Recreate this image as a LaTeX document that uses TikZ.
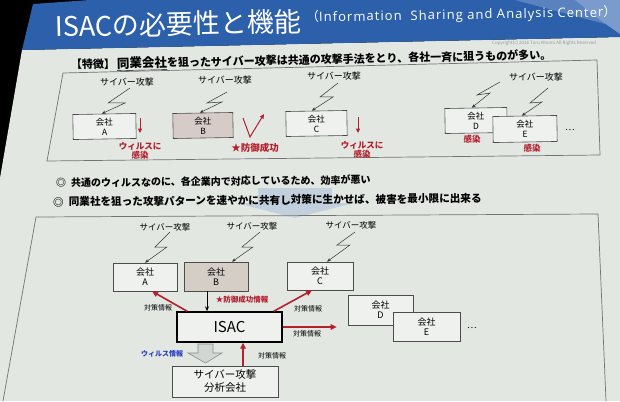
\documentclass[tikz,border=0pt]{standalone}
\usepackage{fontspec}
\setmainfont{Noto Sans CJK JP}
\newfontfamily\latfont[LetterSpace=8]{Open Sans}
\usetikzlibrary{arrows.meta}
\definecolor{slidebg}{HTML}{E2E7E2}
\definecolor{band}{HTML}{2C60AA}
\definecolor{facetA}{HTML}{5A82BE}
\definecolor{facetB}{HTML}{7A9BCB}
\definecolor{boxw}{HTML}{EEF1EE}
\definecolor{boxpink}{HTML}{D6CBC7}
\definecolor{boxbeige}{HTML}{D4CEC6}
\definecolor{myred}{HTML}{B3202E}
\definecolor{myblue}{HTML}{2F3FC0}
\definecolor{lightarrow}{HTML}{C2D0DE}
\definecolor{grayarrow}{HTML}{D2D6D2}
\tikzset{
  cbox/.style={draw=black!70, line width=0.6pt, fill=boxw, align=center, inner sep=0pt, font=\fontsize{8.5}{10}\selectfont},
  lbl/.style={font=\fontsize{9}{10}\selectfont},
  slbl/.style={font=\fontsize{7}{8}\selectfont},
  bolt/.style={draw=black!80, line width=0.5pt, -{Stealth[length=4pt,width=3pt]}},
  redv/.style={draw=myred, line width=1pt, -{Triangle[length=4.5pt,width=4pt]}},
  redthick/.style={draw=myred, line width=1.6pt, -{Triangle[length=6pt,width=5.5pt]}},
  redtxt/.style={text=myred, font=\bfseries\fontsize{8.5}{9}\selectfont, align=center},
  frameline/.style={draw=black!55, line width=0.7pt}
}
\begin{document}
\begin{tikzpicture}[x=1pt,y=-1pt]
\useasboundingbox (0,0) rectangle (620,401);
\fill[black] (0,0) rectangle (620,401);
% slide body and title band
\fill[slidebg] (22,50) -- (620,37) -- (620,401) -- (0,401) -- (0,178) -- cycle;
\fill[band] (33,4) -- (90,0) -- (620,0) -- (620,37) -- (22,50) -- cycle;
\fill[facetA] (515,0) -- (585,0) -- (605,24) -- cycle;
\fill[facetB] (575,0) -- (620,0) -- (620,34) -- (600,20) -- cycle;
\node[anchor=base west, text=white, rotate=1.3, font=\fontsize{27}{30}\selectfont, inner sep=0pt] (title) at (55,37) {ISACの必要性と機能};
\node[anchor=base west, text=white, rotate=1, font=\fontsize{13}{14}\selectfont, inner sep=0pt] (subtitle) at (306,22) {（{\latfont Information\ \ Sharing and Analysis Center}）};
\node[anchor=base west, text=black!40, font=\fontsize{4.5}{5}\selectfont, inner sep=0pt] (copy) at (492,45) {Copyright(c) 2016 Toru Atsumi All Rights Reserved};

% heading
\node[anchor=base west, rotate=1.2, inner sep=0pt, font=\bfseries\fontsize{11}{12}\selectfont] (head) at (71,69) {【特徴】\,\underline{\fontsize{12.5}{13}\selectfont 同業会社}を狙ったサイバー攻撃は共通の攻撃手法をとり、各社一斉に狙うものが多い。};

% upper frame
\draw[frameline] (63,73) -- (597,60) -- (600,155) -- (47,161) -- cycle;

% upper boxes
\node[cbox, rotate=1, minimum width=63pt, minimum height=25pt] (uA) at (104.5,126.5) {会社\\A};
\node[cbox, rotate=1, fill=boxpink, minimum width=60pt, minimum height=25pt] (uB) at (203,125.5) {会社\\B};
\node[cbox, rotate=1, minimum width=61pt, minimum height=25pt] (uC) at (316.5,123.5) {会社\\C};
\node[cbox, rotate=1, minimum width=62pt, minimum height=25pt] (uD) at (476,120.5) {会社\\D};
\node[cbox, rotate=1, minimum width=64pt, minimum height=26pt] (uE) at (525,129) {会社\\E};
\node[lbl] (udots) at (570,130) {…};

% upper attack labels
\node[lbl] (uatkA) at (127,82) {サイバー攻撃};
\node[lbl] (uatkB) at (225,80) {サイバー攻撃};
\node[lbl] (uatkC) at (334,76) {サイバー攻撃};
\node[lbl] (uatkDE) at (536,77) {サイバー攻撃};

% upper bolts
\coordinate (ubA) at (130,88);
\coordinate (ubB) at (227,92);
\coordinate (ubC) at (338,83);
\coordinate (ubD) at (500,82);
\coordinate (ubE) at (548,88);
\draw[bolt] (ubA) -- (108,103) -- (125,103) -- ([xshift=-2.5pt]uA.north);
\draw[bolt] (ubB) -- (207,103) -- (222,102) -- ([xshift=-3pt]uB.north);
\draw[bolt] (ubC) -- (320,97) -- (333,97) -- ([xshift=-4.5pt]uC.north);
\draw[bolt] (ubD) -- (477,95) -- (490,93) -- ([xshift=-4pt]uD.north);
\draw[bolt] (ubE) -- (530,103) -- (542,102) -- ([xshift=-3pt]uE.north);

% upper red marks
\coordinate (raS) at (140,118);
\coordinate (raE) at (140,133);
\draw[redv] (raS) -- (raE);
\coordinate (rcS) at (358,117);
\coordinate (rcE) at (358,133);
\draw[redv] (rcS) -- (rcE);
\coordinate (rbS) at (243,118);
\coordinate (rbM) at (250,137);
\coordinate (rbE) at (264,114);
\draw[redv] (rbS) -- (rbM) -- (rbE);
\node[redtxt] (infA) at (140,151) {ウィルスに\\感染};
\node[redtxt] (infC) at (362,150) {ウィルスに\\感染};
\node[redtxt, font=\bfseries\fontsize{9.5}{10}\selectfont] (defB) at (255,148) {★防御成功};
\node[redtxt] (infD) at (472,139) {感染};
\node[redtxt] (infE) at (532,148) {感染};

% middle arrow and bullets
\fill[lightarrow] (258,188) -- (332,188) -- (332,203) -- (354,203) -- (295,218) -- (236,203) -- (258,203) -- cycle;
\node[anchor=west, inner sep=0pt, rotate=0.6, font=\bfseries\fontsize{10}{11}\selectfont] (bul1) at (56,183) {◎\hspace{5pt}共通のウィルスなのに、各企業内で対応しているため、効率が悪い};
\node[anchor=west, inner sep=0pt, rotate=0.5, font=\bfseries\fontsize{10.6}{11}\selectfont] (bul2) at (53,202) {◎\hspace{5pt}同業社を狙った攻撃パターンを速やかに共有し対策に生かせば、被害を最小限に出来る};

% lower frame
\draw[frameline] (3,401) -- (36,217) -- (598,214) -- (606,401);

% lower boxes
\node[cbox, font=\fontsize{9}{10}\selectfont, minimum width=64pt, minimum height=28pt] (lA) at (145,277) {会社\\A};
\node[cbox, font=\fontsize{9}{10}\selectfont, fill=boxbeige, minimum width=64pt, minimum height=29pt] (lB) at (216,276.5) {会社\\B};
\node[cbox, font=\fontsize{9}{10}\selectfont, minimum width=66pt, minimum height=28pt] (lC) at (320,276) {会社\\C};
\node[cbox, font=\fontsize{9}{10}\selectfont, minimum width=65pt, minimum height=30pt] (lD) at (380.5,310) {会社\\D};
\node[cbox, font=\fontsize{9}{10}\selectfont, minimum width=67pt, minimum height=29pt] (lE) at (426.5,326.5) {会社\\E};
\node[lbl] (ldots) at (472,328) {…};
\node[draw=black, line width=1.4pt, fill=boxw, minimum width=105pt, minimum height=30pt, inner sep=0pt, font=\fontsize{15}{16}\selectfont] (isac) at (229.5,327) {ISAC};
\node[cbox, font=\fontsize{10.5}{13}\selectfont, minimum width=106pt, minimum height=31pt] (an) at (225,381.5) {サイバー攻撃\\分析会社};

% lower attack labels
\node[lbl, font=\fontsize{8.5}{10}\selectfont] (latkA) at (165,227) {サイバー攻撃};
\node[lbl, font=\fontsize{8.5}{10}\selectfont] (latkB) at (252,226) {サイバー攻撃};
\node[lbl, font=\fontsize{8.5}{10}\selectfont] (latkC) at (351,225) {サイバー攻撃};

% lower bolts
\coordinate (lbA) at (170,232);
\coordinate (lbB) at (260,232);
\coordinate (lbC) at (355,232);
\draw[bolt] (lbA) -- (155,247) -- (167,247) -- (lA.north);
\draw[bolt] (lbB) -- (242,247) -- (253,247) -- ([xshift=16pt]lB.north);
\draw[bolt] (lbC) -- (337,245) -- (350,245) -- ([xshift=7pt]lC.north);

% lower connectors
\draw[line width=0.8pt, -{Stealth[length=5pt,width=4pt]}] ([xshift=-9pt]lB.south) -- ([xshift=-9pt]lB.south |- isac.north);
\draw[redthick] ([xshift=11pt]isac.north west) -- ([xshift=7pt]lA.south);
\draw[redthick] ([xshift=-9pt]isac.north east) -- ([xshift=-8pt]lC.south);
\draw[redthick] (isac.east) -- ++(54,0);
\draw[redthick] ([xshift=18pt]an.north) -- ([xshift=18pt]an.north |- isac.south);
\fill[grayarrow, draw=black!45, line width=0.6pt] (198,344) -- (213,344) -- (213,353) -- (222,353) -- (205.5,363) -- (188,353) -- (198,353) -- cycle;

% lower labels
\node[redtxt, font=\bfseries\fontsize{7.5}{8}\selectfont] (defInfo) at (242,300) {★防御成功情報};
\node[slbl] (taiA) at (158,308) {対策情報};
\node[slbl] (taiC) at (308,309) {対策情報};
\node[slbl] (taiD) at (307,334) {対策情報};
\node[slbl] (taiAn) at (272,356) {対策情報};
\node[slbl, text=myblue, font=\bfseries\fontsize{7}{8}\selectfont] (virus) at (162,354) {ウィルス情報};
\end{tikzpicture}
\end{document}
